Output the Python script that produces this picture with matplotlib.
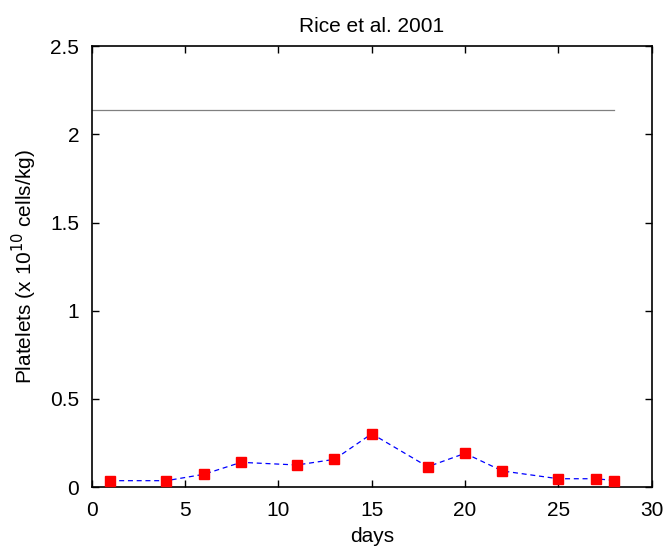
import matplotlib
matplotlib.use("Agg")
import matplotlib.pyplot as plt

days = [1, 4, 6, 8, 11, 13, 15, 18, 20, 22, 25, 27, 28]
platelets = [0.036, 0.036, 0.072, 0.14, 0.125, 0.157, 0.302, 0.115, 0.191, 0.091, 0.047, 0.047, 0.037]
baseline_days = [0, 28]
baseline_value = [2.14, 2.14]

xticks = [0, 5, 10, 15, 20, 25, 30]
yticks = [0, 0.5, 1, 1.5, 2, 2.5]
ytick_labels = ["0", "0.5", "1", "1.5", "2", "2.5"]

plt.rcParams['font.family'] = ['Liberation Sans', 'DejaVu Sans']

fig = plt.figure(figsize=(6.65, 5.5), dpi=100)
ax = fig.add_axes([0.138, 0.1145, 0.842, 0.8015])

ax.plot(baseline_days, baseline_value, color='#808080', linewidth=0.9)
ax.plot(days, platelets, linestyle='--', color='blue', linewidth=0.9,
        dashes=(4, 3), marker='s', markersize=7, markerfacecolor='red',
        markeredgecolor='red', zorder=3)

ax.set_xlim(0, 30)
ax.set_ylim(0, 2.5)
ax.set_xticks(xticks)
ax.set_yticks(yticks)
ax.set_yticklabels(ytick_labels)
ax.tick_params(direction='in', top=True, right=True, labelsize=15, length=5, width=1)
ax.tick_params(axis='x', pad=10)
ax.tick_params(axis='y', pad=9)
for s in ax.spines.values():
    s.set_linewidth(1.2)

ax.set_xlabel('days', fontsize=15, labelpad=5)
ax.set_ylabel('Platelets (x 10$^{10}$ cells/kg)', fontsize=15, labelpad=8)
ax.set_title('Rice et al. 2001', fontsize=15, pad=10)

fig.savefig('out.png', dpi=100)
